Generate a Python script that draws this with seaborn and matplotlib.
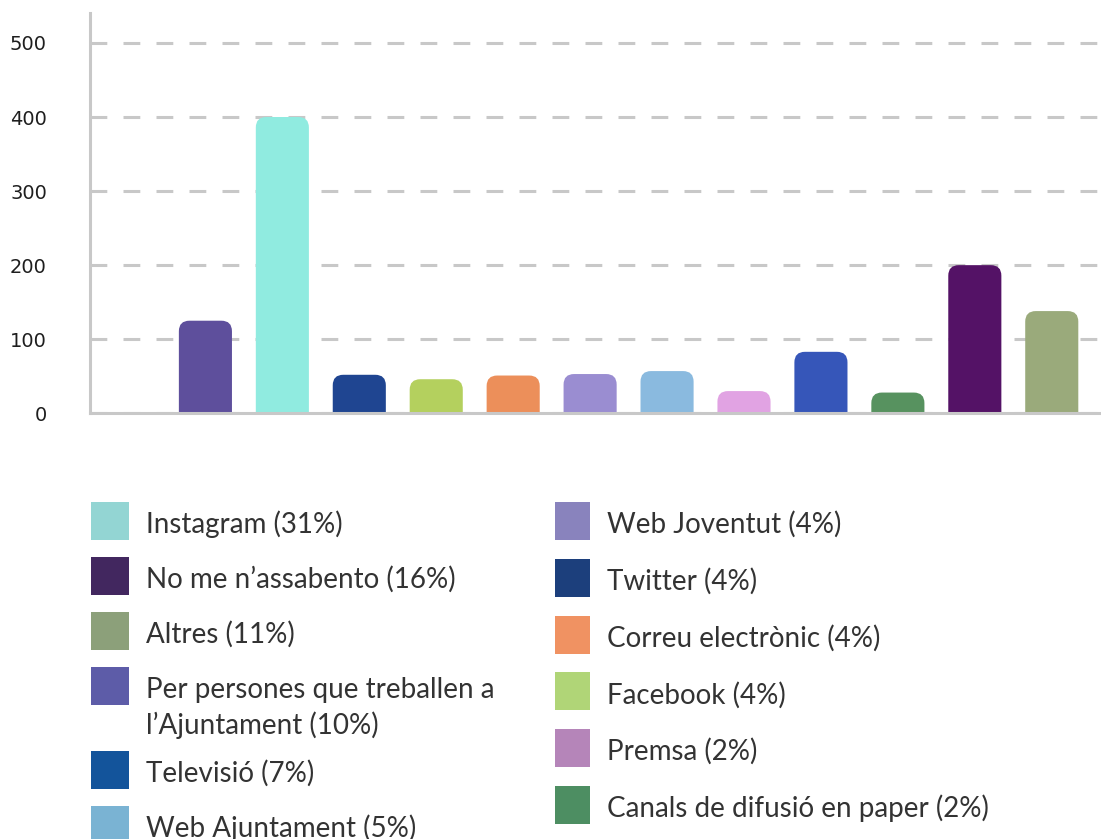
import seaborn as sns
import matplotlib.pyplot as plt
import pandas as pd
from matplotlib.patches import FancyBboxPatch, Rectangle, BoxStyle

# bar chart data (first slot is empty)
bar_labels = ["", "Per persones que treballen a l'Ajuntament", "Instagram", "Twitter",
              "Facebook", "Correu electrònic", "Web Joventut", "Web Ajuntament",
              "Premsa", "Televisió", "Canals de difusió en paper",
              "No me n'assabento", "Altres"]
bar_values = [0, 125, 400, 52, 46, 51, 53, 57, 30, 83, 28, 200, 138]
bar_colors = ["#ffffff", "#5e4f9c", "#90ebe0", "#1f4591", "#b4d05e", "#ec8f5a",
              "#9a8dd1", "#8abadf", "#e1a3e3", "#3656b9", "#57925f", "#541266",
              "#9aaa7b"]
y_ticks = [0, 100, 200, 300, 400, 500]

# legend entries (two columns)
legend_left = ["Instagram (31%)", "No me n’assabento (16%)", "Altres (11%)",
               "Per persones que treballen a\nl’Ajuntament (10%)", "Televisió (7%)",
               "Web Ajuntament (5%)"]
legend_left_colors = ["#93d5d3", "#42275f", "#8ca07a", "#5d5ca8", "#13549b", "#7ab3d3"]
legend_right = ["Web Joventut (4%)", "Twitter (4%)", "Correu electrònic (4%)",
                "Facebook (4%)", "Premsa (2%)", "Canals de difusió en paper (2%)"]
legend_right_colors = ["#8983bd", "#1c3f7c", "#f09262", "#b0d577", "#b585b9", "#4d8e62"]

df = pd.DataFrame({"canal": bar_labels, "valor": bar_values})

sns.set_style("white")
plt.rcParams["font.family"] = ["DejaVu Sans"]

W, H = 1101, 839
fig = plt.figure(figsize=(W / 100, H / 100), dpi=100)
ax = fig.add_axes([90 / W, (H - 413.3) / H, 1 - 90 / W, (413.3 - 13.3) / H])

sns.barplot(data=df, x="canal", y="valor", hue="canal", palette=bar_colors,
            legend=False, width=0.69, saturation=1, ax=ax)

ax.set_xlim(-0.5, 12.64)
ax.set_ylim(0, 540)
ax.set_yticks(y_ticks)
ax.set_xticks([])
ax.set_xlabel("")
ax.set_ylabel("")
ax.tick_params(axis="y", length=0, pad=31, labelsize=14, labelcolor="#1e1e1e")

for s in ["top", "right"]:
    ax.spines[s].set_visible(False)
for s in ["left", "bottom"]:
    ax.spines[s].set_color("#c8c8c8")
    ax.spines[s].set_linewidth(2.2)
    ax.spines[s].set_zorder(3)

ax.set_axisbelow(True)
ax.yaxis.grid(True, color="#c8c8c8", linewidth=2.2, linestyle=(0, (5.5, 5.3)))

# rounded tops: replace seaborn's rectangles with rounded patches;
# the rounded bottom corners fall below y=0 and are clipped by the axes
x0, y0 = ax.transData.transform((0, 0))
x1, y1 = ax.transData.transform((1, 1))
aspect = (x1 - x0) / (y1 - y0)
r = 10.5 / (x1 - x0)
for p in list(ax.patches):
    x, w, h = p.get_x(), p.get_width(), p.get_height()
    fc = p.get_facecolor()
    p.set_visible(False)
    if h <= 0:
        continue
    below = 2 * r * aspect
    ax.add_patch(FancyBboxPatch((x, -below), w, h + below,
                                boxstyle=BoxStyle.Round(pad=0, rounding_size=r),
                                mutation_aspect=aspect, fc=fc, ec="none", zorder=2))


def px(x, y):
    return x / W, 1 - y / H


txt = dict(fontsize=20, family=["Lato", "DejaVu Sans"], color="#333333",
           va="baseline", ha="left")
line_step = 36


def legend_entry(x_sq, x_txt, top, sq_w, label, color):
    fx, fy = px(x_sq, top + 38)
    fig.add_artist(Rectangle((fx, fy), sq_w / W, 38 / H, transform=fig.transFigure,
                             fc=color, ec="none"))
    for k, line in enumerate(label.split("\n")):
        fig.text(*px(x_txt, top + 31 + k * line_step), line, **txt)


# left column
extra = 0
for i, (lab, col) in enumerate(zip(legend_left, legend_left_colors)):
    top = 502 + 55 * i + 29 * extra
    legend_entry(91, 146, top, 38, lab, col)
    extra += lab.count("\n")

# right column
for i, (lab, col) in enumerate(zip(legend_right, legend_right_colors)):
    top = 502 + 56.8 * i
    legend_entry(555, 607, top, 35, lab, col)

fig.savefig("out.png", dpi=100, facecolor="white")
